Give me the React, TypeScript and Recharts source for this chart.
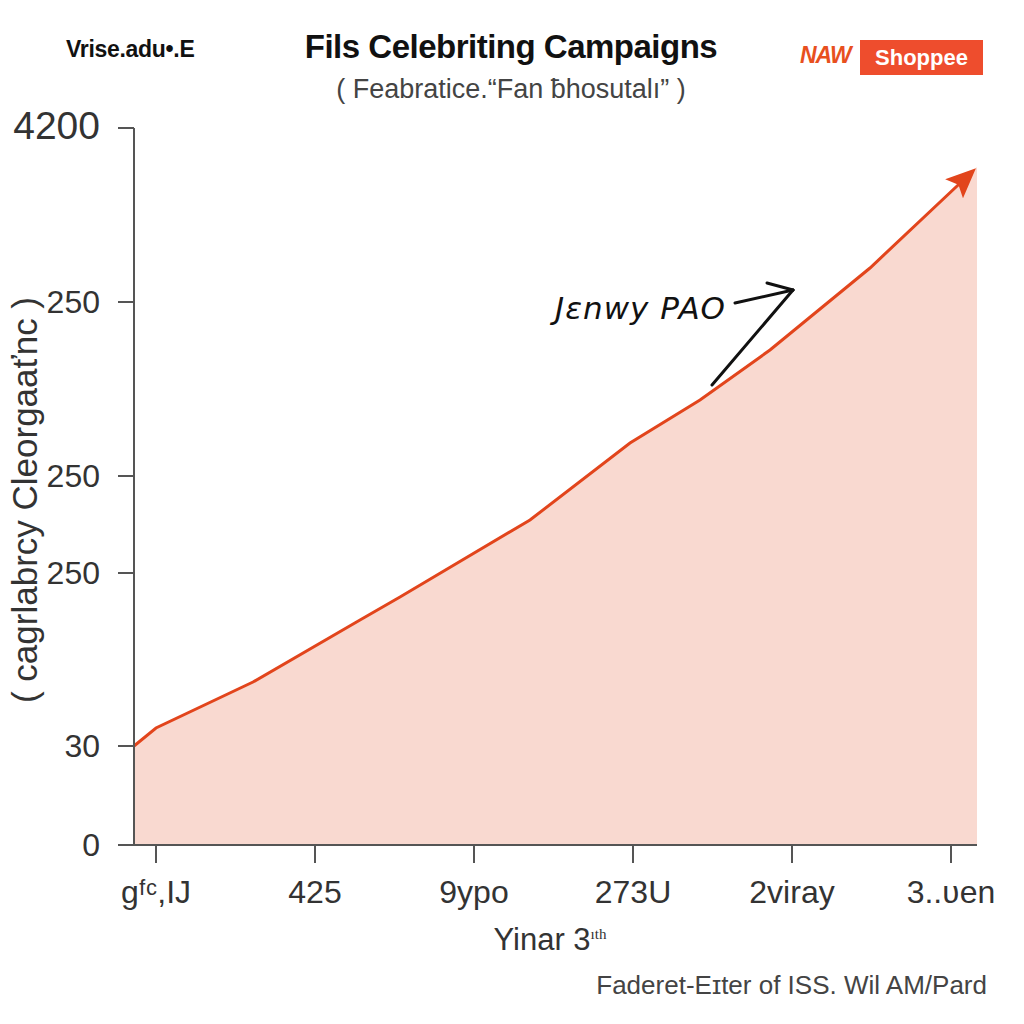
import React from "react";
import { ComposedChart, Area, Line, XAxis, YAxis, ReferenceLine } from "recharts";

// positions along the x axis (plot units) and the line values
const xPos = [0, 22, 119, 226, 266, 396, 496, 566, 636, 736, 839, 843];
const areaVals = [99, 117, 163, 225, 248, 325, 402, 445, 495, 577, 674, 678];
const lineVals = [99, 117, 163, 225, 248, 325, 402, 445, 495, 577, 674, null];

const xTicks = [22, 181, 340, 499, 658, 817];
const xTickLabels = ["gᶠᶜ,IJ", "425", "9ypo", "273U", "2viray", "3..ʋen"];

const yTicks = [0, 99, 272, 369, 543, 717];
const yTickLabels = ["0", "30", "250", "250", "250", "4200"];

// hand-drawn annotation arrow, in plot units
const annotation = [
  [[578, 460], [659, 555]],
  [[601, 542], [659, 555]],
  [[633, 562], [659, 555]],
];

const LINE_COLOR = "#e2451c";
const FILL_COLOR = "#f9d9d0";
const AXIS_COLOR = "#555";
const FONT = "'Liberation Sans', Arial, sans-serif";

const data = xPos.map((x, i) => ({ x, area: areaVals[i], line: lineVals[i] }));

function YTick(props: any) {
  const { x, y, payload } = props;
  const idx = yTicks.indexOf(payload.value);
  const big = idx === yTicks.length - 1;
  return (
    <text x={x} y={y} dy={11} textAnchor="end" fill="#333" fontSize={big ? 39 : 32} fontFamily={FONT}>
      {yTickLabels[idx]}
    </text>
  );
}

function XTick(props: any) {
  const { x, y, payload } = props;
  const idx = xTicks.indexOf(payload.value);
  return (
    <text x={x} y={y} dy={38} textAnchor="middle" fill="#333" fontSize={32} fontFamily={FONT}>
      {xTickLabels[idx]}
    </text>
  );
}

export default function App() {
  return (
    <div style={{ position: "relative", width: 1024, height: 1024, background: "#fff", fontFamily: FONT }}>
      <style>{`body{margin:0}`}</style>

      <div style={{ position: "absolute", left: 66, top: 36, fontSize: 23, fontWeight: 700, color: "#111", letterSpacing: -0.3 }}>
        Vrise.adu•.E
      </div>
      <div style={{ position: "absolute", left: 0, width: 1022, top: 28, textAlign: "center", fontSize: 33, fontWeight: 700, color: "#111", letterSpacing: -0.5 }}>
        Fils Celebriting Campaigns
      </div>
      <div style={{ position: "absolute", left: 0, width: 1022, top: 74, textAlign: "center", fontSize: 27, color: "#444" }}>
        ( Feabratice.“Fan ƀhosutalı” )
      </div>

      <div style={{ position: "absolute", left: 800, top: 42, fontSize: 23, fontStyle: "italic", fontWeight: 700, color: "#e8501e", letterSpacing: -1 }}>
        NAW
      </div>
      <div style={{ position: "absolute", left: 860, top: 40, width: 123, height: 35, background: "#ee4d2d", color: "#fff", fontSize: 22, fontWeight: 700, lineHeight: "35px", textAlign: "center" }}>
        Shoppee
      </div>

      <div
        style={{
          position: "absolute",
          left: 25,
          top: 500,
          transform: "translate(-50%, -50%) rotate(-90deg)",
          whiteSpace: "nowrap",
          fontSize: 35,
          color: "#333",
        }}
      >
        ( caɡrlabrcy Cleorgaaťnc )
      </div>

      <div style={{ position: "absolute", left: 0, width: 1100, top: 922, textAlign: "center", fontSize: 31, color: "#333" }}>
        Yinar 3<sup style={{ fontSize: 15, fontFamily: "'Liberation Serif', serif" }}>ıth</sup>
      </div>

      <div style={{ position: "absolute", right: 37, top: 970, fontSize: 26, color: "#444" }}>
        Faderet-Eɪter of ISS. Wil AM/Pard
      </div>

      <div style={{ position: "absolute", left: 555, top: 290, fontSize: 31, fontStyle: "italic", color: "#111", fontFamily: "'DejaVu Sans', sans-serif", letterSpacing: 1 }}>
        Jɛnwy PAO
      </div>

      <div style={{ position: "absolute", left: 0, top: 0 }}>
        <ComposedChart width={1024} height={1024} data={data} margin={{ top: 128, right: 47, bottom: 119, left: 0 }}>
          <defs>
            <marker id="arrowHead" markerUnits="userSpaceOnUse" markerWidth={30} markerHeight={26} viewBox="0 0 30 26" refX={26} refY={13} orient="auto">
              <path d="M0,0 L30,13 L0,26 L6,13 z" fill={LINE_COLOR} />
            </marker>
          </defs>
          <XAxis
            dataKey="x"
            type="number"
            domain={[0, 843]}
            ticks={xTicks}
            tick={<XTick />}
            tickSize={18}
            height={60}
            stroke={AXIS_COLOR}
            tickLine={{ stroke: AXIS_COLOR, strokeWidth: 2 }}
            axisLine={{ stroke: AXIS_COLOR, strokeWidth: 2 }}
            allowDataOverflow
          />
          <YAxis
            type="number"
            domain={[0, 717]}
            ticks={yTicks}
            tick={<YTick />}
            tickSize={16}
            tickMargin={18}
            width={134}
            stroke={AXIS_COLOR}
            tickLine={{ stroke: AXIS_COLOR, strokeWidth: 2 }}
            axisLine={{ stroke: AXIS_COLOR, strokeWidth: 2 }}
            allowDataOverflow
          />
          <Area type="linear" dataKey="area" stroke="none" fill={FILL_COLOR} fillOpacity={1} isAnimationActive={false} />
          <Line
            type="linear"
            dataKey="line"
            stroke={LINE_COLOR}
            strokeWidth={3}
            dot={false}
            activeDot={false}
            isAnimationActive={false}
            markerEnd="url(#arrowHead)"
          />
          {annotation.map((seg, i) => (
            <ReferenceLine
              key={i}
              segment={[{ x: seg[0][0], y: seg[0][1] }, { x: seg[1][0], y: seg[1][1] }]}
              stroke="#111"
              strokeWidth={3}
              strokeLinecap="round"
            />
          ))}
        </ComposedChart>
      </div>
    </div>
  );
}
